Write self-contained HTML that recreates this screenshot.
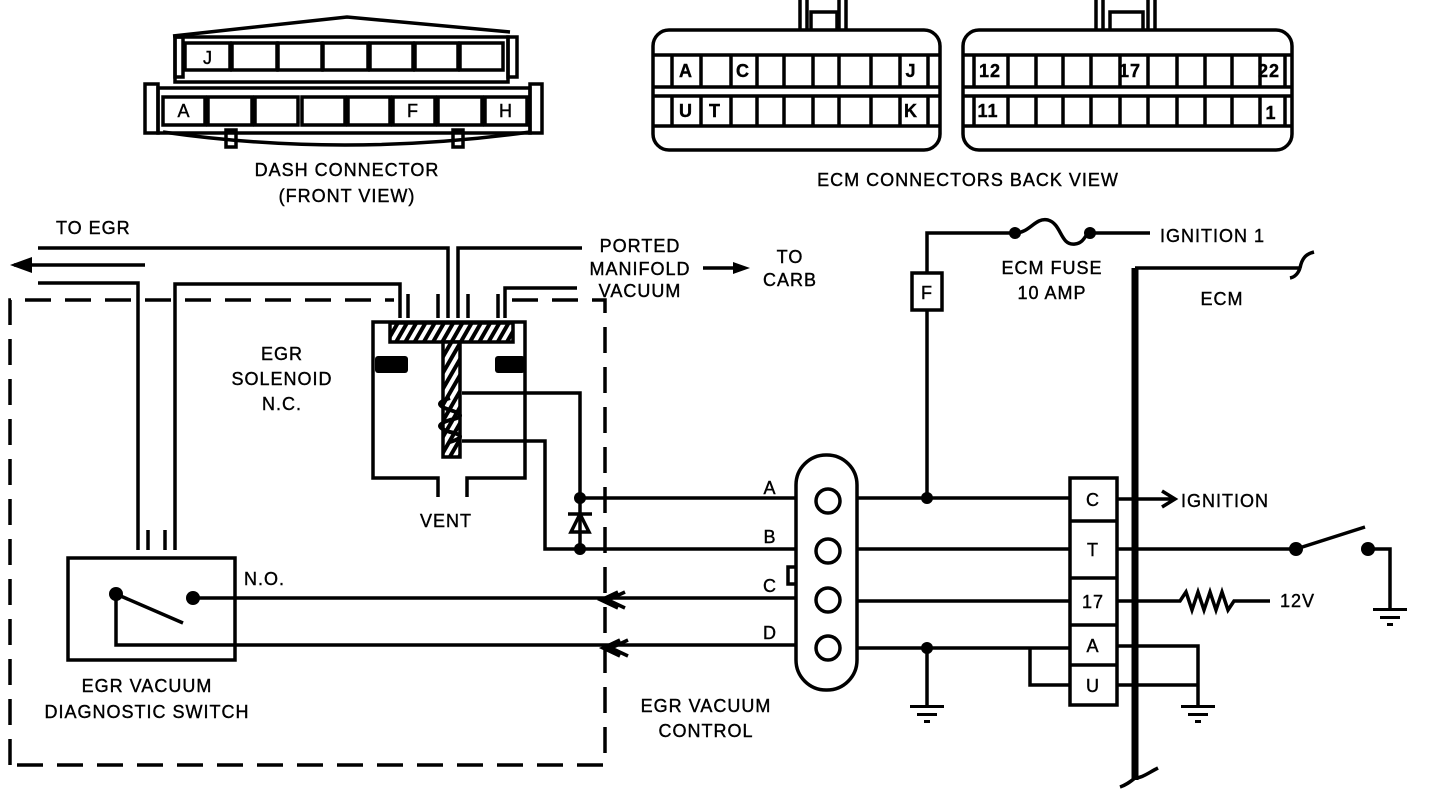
<!DOCTYPE html>
<html><head><meta charset="utf-8"><style>
html,body{margin:0;padding:0;background:#fff;}
svg{display:block}
text{font-family:"Liberation Sans",sans-serif;font-size:18px;fill:#000;stroke:#000;stroke-width:0.4;letter-spacing:1px}
</style></head><body>
<svg width="1440" height="792" viewBox="0 0 1440 792" xmlns="http://www.w3.org/2000/svg">
<defs>
<pattern id="hatch" width="8" height="8" patternUnits="userSpaceOnUse" patternTransform="rotate(30)">
<rect width="8" height="8" fill="#fff"/><rect width="4" height="8" fill="#000"/>
</pattern>
</defs>
<g fill="none" stroke="#000" stroke-width="3.5">
<!-- Dash connector -->
<path d="M173 36 L347 17 L510 32"/>
<path d="M175 37 H508 V82 H175 Z"/>
<rect x="175" y="37" width="8" height="40"/><rect x="508" y="37" width="9" height="40"/>
<rect x="185" y="43" width="45" height="27"/><rect x="232" y="43" width="45" height="27"/><rect x="278" y="43" width="44" height="27"/><rect x="323" y="43" width="45" height="27"/><rect x="370" y="43" width="43" height="27"/><rect x="415" y="43" width="43" height="27"/><rect x="460" y="43" width="43" height="27"/>
<path d="M158 88 H530 V133 H158 Z"/>
<rect x="145" y="84" width="13" height="49"/><rect x="530" y="84" width="12" height="49"/>
<rect x="163" y="97" width="42" height="28"/><rect x="208" y="97" width="44" height="28"/><rect x="255" y="97" width="43" height="28"/><rect x="302" y="97" width="43" height="28"/><rect x="348" y="97" width="42" height="28"/><rect x="393" y="97" width="42" height="28"/><rect x="438" y="97" width="44" height="28"/><rect x="485" y="97" width="42" height="28"/>
<path d="M163 132 Q343 158 530 132"/>
<rect x="226" y="130" width="10" height="17"/><rect x="453" y="130" width="10" height="17"/>
<!-- ECM connectors -->
<path d="M800 30 V0 M807 30 V0 M839 30 V0 M846 30 V0 M811 30 V12 H837 V30"/>
<rect x="653" y="30" width="287" height="120" rx="16"/>
<path d="M653 55 H940 M653 87 H940 M653 96 H940 M653 126 H940"/>
<path d="M672 55 V87 M701 55 V87 M731 55 V87 M757 55 V87 M784 55 V87 M813 55 V87 M839 55 V87 M871 55 V87 M900 55 V87 M928 55 V87"/>
<path d="M672 96 V126 M701 96 V126 M731 96 V126 M757 96 V126 M784 96 V126 M813 96 V126 M839 96 V126 M871 96 V126 M900 96 V126 M928 96 V126"/>
<path d="M1096 30 V0 M1103 30 V0 M1148 30 V0 M1155 30 V0 M1110 30 V12 H1143 V30"/>
<rect x="963" y="30" width="329" height="120" rx="16"/>
<path d="M963 55 H1292 M963 87 H1292 M963 96 H1292 M963 126 H1292"/>
<path d="M974 55 V87 M1008 55 V87 M1036 55 V87 M1063 55 V87 M1091 55 V87 M1120 55 V87 M1148 55 V87 M1177 55 V87 M1205 55 V87 M1232 55 V87 M1260 55 V87 M1285 55 V87"/>
<path d="M974 96 V126 M1008 96 V126 M1036 96 V126 M1063 96 V126 M1091 96 V126 M1120 96 V126 M1148 96 V126 M1177 96 V126 M1205 96 V126 M1232 96 V126 M1260 96 V126 M1285 96 V126"/>
<!-- vacuum lines -->
<path d="M38 248 H448 V318 M438 318 V294"/>
<path d="M582 248 H458 V318 M468 318 V294"/>
<path d="M14 265 H145"/>
<path d="M38 283 H138 V550"/>
<path d="M175 550 V284 H400 V318 M408 318 V294"/>
<path d="M577 288 H505 V318 M498 318 V294"/>
<path d="M148 550 V530 M165 550 V530"/>
<path d="M703 268 H738"/>
<!-- dashed enclosure -->
<path d="M10 765 V300 H394 M512 300 H605 V765 H10" stroke-dasharray="26 14"/>
<!-- solenoid -->
<path d="M438 497 V478 H373 V322 H525 V478 H467 V497"/>
<rect x="390" y="323" width="123" height="19" fill="url(#hatch)"/>
<rect x="443" y="342" width="17" height="115" fill="url(#hatch)"/>
<path d="M462 393 H580 V549 M462 441 H545 V549 H795"/>
<path d="M450 398 Q430 404 450 410 Q470 416 450 420 Q430 426 450 432 Q470 436 450 442" stroke-width="4"/>
<path d="M580 498 H795"/>
<path d="M568 514 H592 M580 514 L571 532 H589 Z"/>
<!-- switch -->
<rect x="68" y="558" width="167" height="102"/>
<path d="M116 594 L183 623 M116 594 V645 H795 M193 598 H795"/>
<!-- chevrons -->
<path d="M625 592 L608 600 L625 608 M618 592 L601 600 L618 608"/>
<path d="M628 640 L611 648 L628 656 M620 640 L603 648 L620 656"/>
<!-- connector -->
<rect x="796" y="455" width="61" height="235" rx="30"/>
<circle cx="828" cy="501" r="12"/><circle cx="828" cy="551" r="12"/><circle cx="828" cy="600" r="12"/><circle cx="828" cy="648" r="12"/>
<path d="M796 567 H788 V584 H796"/>
<path d="M857 498 H1070 M857 549 H1070 M857 601 H1070 M857 648 H1070"/>
<path d="M927 498 V310 M927 273 V233 H1015 M1090 233 H1150"/>
<rect x="912" y="273" width="30" height="37" fill="#fff"/>
<path d="M1015 233 C1030 233 1035 217 1048 220 C1062 224 1060 246 1075 244 C1085 243 1085 233 1090 233"/>
<path d="M927 648 V705"/>
<path d="M1030 648 V685 H1070"/>
<!-- ECM block -->
<rect x="1070" y="478" width="47" height="227"/>
<path d="M1070 521 H1117 M1070 578 H1117 M1070 625 H1117 M1070 665 H1117"/>
<path d="M1117 499 H1175 M1162 491 L1175 499 L1162 507"/>
<path d="M1117 549 H1296 L1365 527 M1368 549 H1390 V608"/>
<path d="M1117 601 H1180 L1186 592 L1192 610 L1198 592 L1204 610 L1210 592 L1216 610 L1222 592 L1228 610 L1234 601 H1270"/>
<path d="M1117 646 H1198 V705 M1117 685 H1198"/>
<path d="M1135 268 H1300 M1300 268 C1302 258 1306 254 1314 252 M1300 268 C1298 274 1295 277 1290 278"/>
<path d="M1135 778 C1130 782 1126 785 1120 787 M1135 778 C1142 778 1148 773 1158 768"/>
</g>
<path d="M1135 268 V780" stroke="#000" stroke-width="7"/>
<g fill="#000">
<path d="M10 265 L32 257 L32 273 Z"/>
<path d="M750 268 L733 262 L733 274 Z"/>
<rect x="375" y="356" width="33" height="17" rx="3"/><rect x="495" y="356" width="30" height="17" rx="3"/>
<circle cx="580" cy="498" r="6"/><circle cx="580" cy="549" r="6"/>
<circle cx="116" cy="594" r="7"/><circle cx="193" cy="598" r="7"/>
<circle cx="927" cy="498" r="6"/><circle cx="927" cy="648" r="6"/>
<circle cx="1015" cy="233" r="6"/><circle cx="1090" cy="233" r="6"/>
<circle cx="1296" cy="549" r="7"/><circle cx="1368" cy="549" r="7"/>
<rect x="910" y="705" width="34" height="3"/><rect x="917" y="713" width="20" height="3"/><rect x="924" y="720" width="6" height="3"/>
<rect x="1181" y="705" width="34" height="3"/><rect x="1188" y="713" width="20" height="3"/><rect x="1195" y="720" width="6" height="3"/>
<rect x="1373" y="608" width="34" height="3"/><rect x="1380" y="616" width="20" height="3"/><rect x="1387" y="623" width="6" height="3"/>
</g>
<g>
<text x="208" y="64" font-size="14" text-anchor="middle">J</text>
<text x="184" y="117" font-size="14" text-anchor="middle">A</text>
<text x="413" y="117" font-size="14" text-anchor="middle">F</text>
<text x="506" y="117" font-size="14" text-anchor="middle">H</text>
<text x="347" y="176" text-anchor="middle">DASH CONNECTOR</text>
<text x="347" y="202" text-anchor="middle">(FRONT VIEW)</text>
<g font-weight="bold">
<text x="686" y="77" text-anchor="middle" font-size="15">A</text>
<text x="743" y="77" text-anchor="middle" font-size="15">C</text>
<text x="911" y="77" text-anchor="middle" font-size="15">J</text>
<text x="686" y="117" text-anchor="middle" font-size="15">U</text>
<text x="715" y="117" text-anchor="middle" font-size="15">T</text>
<text x="911" y="117" text-anchor="middle" font-size="15">K</text>
<text x="990" y="77" text-anchor="middle" font-size="15">12</text>
<text x="1130" y="77" text-anchor="middle" font-size="15">17</text>
<text x="1269" y="77" text-anchor="middle" font-size="15">22</text>
<text x="988" y="117" text-anchor="middle" font-size="15">11</text>
<text x="1271" y="119" text-anchor="middle" font-size="15">1</text>
</g>
<text x="968" y="186" text-anchor="middle">ECM CONNECTORS BACK VIEW</text>
<text x="56" y="234">TO EGR</text>
<text x="282" y="360" text-anchor="middle">EGR</text>
<text x="282" y="385" text-anchor="middle">SOLENOID</text>
<text x="282" y="410" text-anchor="middle">N.C.</text>
<text x="640" y="252" text-anchor="middle">PORTED</text>
<text x="640" y="275" text-anchor="middle">MANIFOLD</text>
<text x="640" y="297" text-anchor="middle">VACUUM</text>
<text x="790" y="263" text-anchor="middle">TO</text>
<text x="790" y="286" text-anchor="middle">CARB</text>
<text x="446" y="527" text-anchor="middle">VENT</text>
<text x="244" y="585">N.O.</text>
<text x="147" y="692" text-anchor="middle">EGR VACUUM</text>
<text x="147" y="718" text-anchor="middle">DIAGNOSTIC SWITCH</text>
<text x="706" y="712" text-anchor="middle">EGR VACUUM</text>
<text x="706" y="737" text-anchor="middle">CONTROL</text>
<text x="770" y="494" text-anchor="middle" font-size="16">A</text>
<text x="770" y="543" text-anchor="middle" font-size="16">B</text>
<text x="770" y="592" text-anchor="middle" font-size="16">C</text>
<text x="770" y="639" text-anchor="middle" font-size="16">D</text>
<text x="927" y="299" text-anchor="middle" font-size="16">F</text>
<text x="1052" y="274" text-anchor="middle">ECM FUSE</text>
<text x="1052" y="299" text-anchor="middle">10 AMP</text>
<text x="1160" y="242">IGNITION 1</text>
<text x="1222" y="305" text-anchor="middle">ECM</text>
<text x="1181" y="507">IGNITION</text>
<text x="1280" y="607">12V</text>
<text x="1093" y="506" text-anchor="middle" font-size="16">C</text>
<text x="1093" y="556" text-anchor="middle" font-size="16">T</text>
<text x="1093" y="608" text-anchor="middle" font-size="16">17</text>
<text x="1093" y="652" text-anchor="middle" font-size="16">A</text>
<text x="1093" y="692" text-anchor="middle" font-size="16">U</text>
</g>
</svg>
</body></html>
